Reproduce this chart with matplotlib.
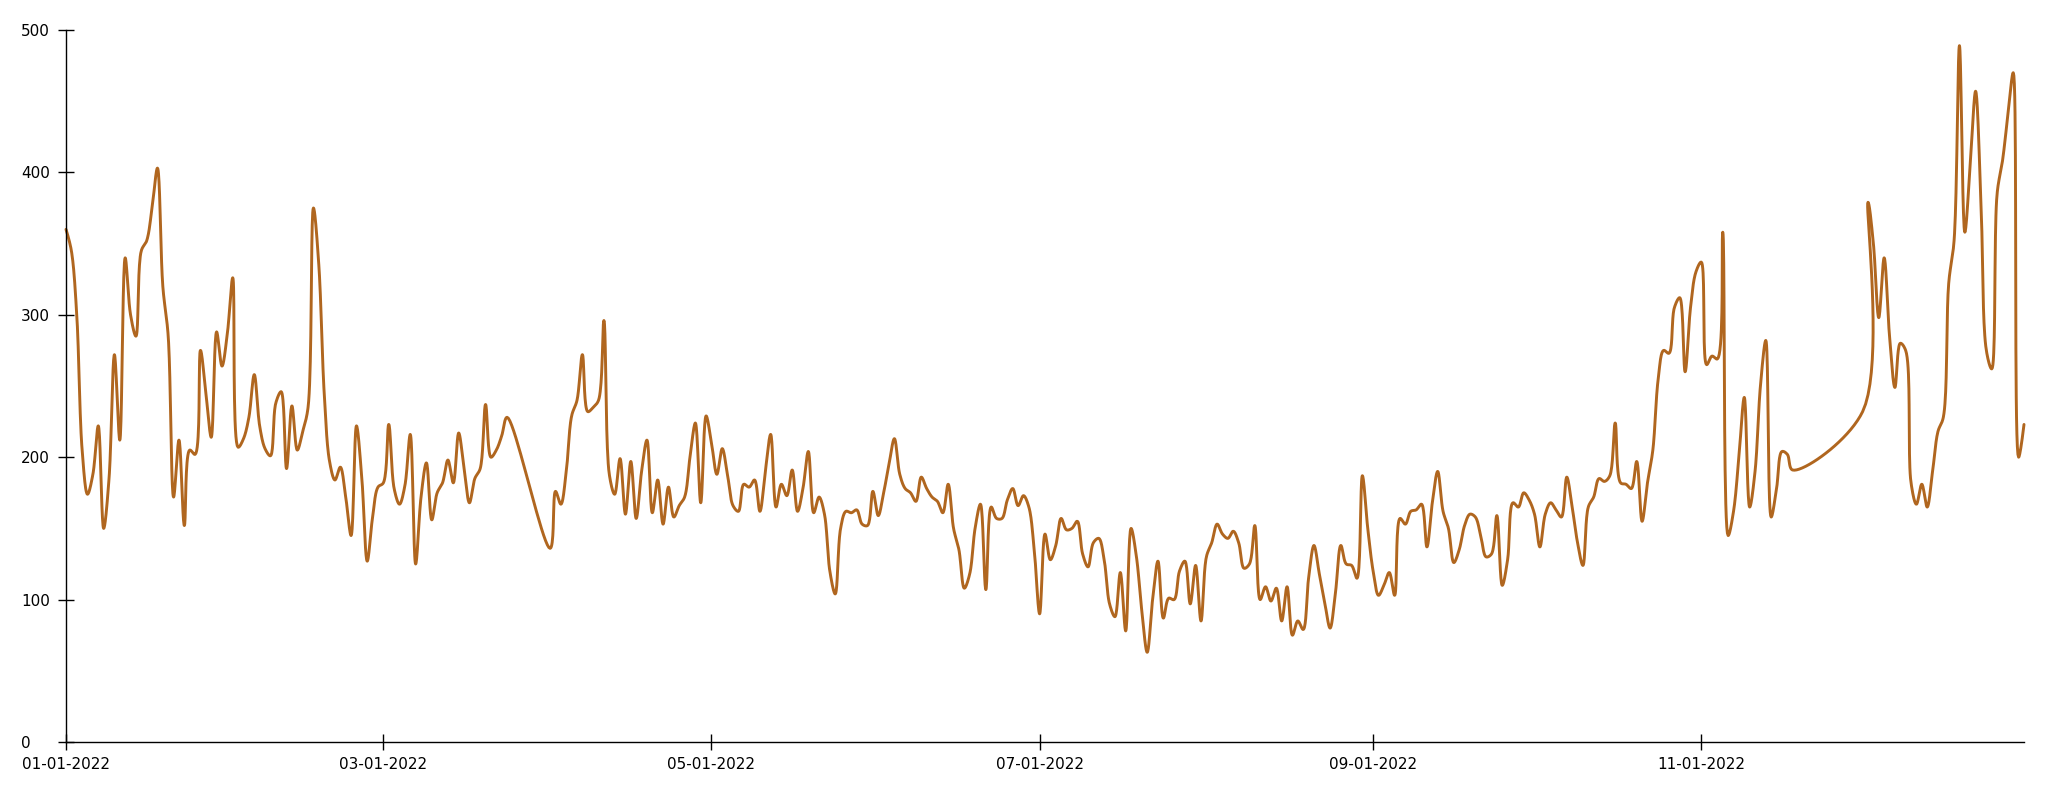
import numpy as np
import pandas as pd
import matplotlib
matplotlib.use("Agg")
import matplotlib.pyplot as plt
import matplotlib.dates as mdates

# ---- data (daily values, None = no observation) ----
start_date = "2022-01-01"
end_date = "2022-12-31"

jan = [360, 345, 300, 205, 174, 188, 222, 150, 185, 272, 212, 340, 300, 285, 345, 352,
       375, 403, 320, 285, 172, 212, 152, 205, 202, 275, 245, 214, 288, 264, 287]
feb = [326, 207, 213, 228, 258, 222, 206, 201, 238, 246, 192, 236, 205, 218, 235, 375,
       335, 245, 197, 184, 193, 172, 145, 222, 185, 127, 158, 179]
mar = [182, 223, 178, 167, 180, 216, 125, 172, 196, 156, 175, 182, 198, 182, 217, 192,
       168, 185, 192, 237, 200, 205, 215, 228, None, None, None, None, None, None, None]
apr = [136, 176, 167, 190, 229, 240, 272, 232, 235, 240, 296, 188, 174, 199, 160, 197,
       157, 190, 212, 161, 184, 153, 179, 158, 166, 172, 200, 224, 168, 229]
may = [210, 188, 206, 187, 166, 162, 181, 179, 184, 162, 190, 216, 165, 181, 173, 191,
       162, 178, 204, 161, 172, 160, 120, 104, 150, 162, 161, 163, 153, 152, 176]
jun = [159, 175, 195, 213, 188, 178, 175, 169, 186, 178, 172, 169, 161, 181, 150, 135,
       108, 118, 150, 167, 107, 165, 157, 157, 170, 178, 166, 173, 165, 135]
jul = [90, 146, 128, 138, 157, 149, 150, 155, 132, 123, 140, 143, 128, 97, 88, 119,
       78, 150, 130, 92, 63, 100, 127, 87, 101, 100, 120, 127, 97, 124, 85]
aug = [130, 140, 153, 146, 143, 148, 140, 122, 125, 152, 100, 109, 99, 108, 85, 109,
       75, 85, 79, 115, 138, 118, 98, 80, 105, 138, 125, 124, 115, 187, 150]
sep = [120, 103, 110, 119, 103, 157, 153, 162, 163, 167, 137, 168, 190, 162, 150, 126,
       135, 152, 160, 158, 145, 130, 132, 159, 110, 128, 168, 165, 175, 170]
oct_ = [160, 137, 160, 168, 163, 158, 186, 165, 140, 124, 165, 172, 185, 183, 187, 224,
        182, 181, 178, 197, 155, 182, 205, 255, 275, 273, 305, 312, 260, 305, 330]
nov = [337, 265, 271, 269, 358, 145, 162, 200, 242, 165, 190, 250, 282, 158, 178, 204,
       202, 191, None, None, None, None, None, None, None, None, None, None, None, None]
dec = [232, 379, 350, 298, 340, 285, 249, 280, 275, 182, 167, 181, 165, 190, 218, 228,
       322, 352, 489, 358, 405, 457, 380, 275, 262, 385, 408, 440, 470, 200, 223]

y_ticks = [0, 100, 200, 300, 400, 500]
x_tick_dates = ["2022-01-01", "2022-03-01", "2022-05-01", "2022-07-01", "2022-09-01", "2022-11-01"]
x_tick_labels = ["01-01-2022", "03-01-2022", "05-01-2022", "07-01-2022", "09-01-2022", "11-01-2022"]

dates = pd.date_range(start_date, end_date, freq="D")
values = jan + feb + mar + apr + may + jun + jul + aug + sep + oct_ + nov + dec
series = pd.Series(values, index=dates, dtype="float").dropna()

# ---- figure ----
W, H = 2048, 793
fig = plt.figure(figsize=(W / 100, H / 100), dpi=100)
ax = fig.add_axes([66 / W, 1 - 742 / H, (2024 - 66) / W, (742 - 30) / H])

x0 = mdates.date2num(pd.Timestamp(start_date))
x1 = mdates.date2num(pd.Timestamp(end_date))
ax.set_xlim(x0, x1)
ax.set_ylim(0, 500)


def catmull_rom(px, py, alpha=0.5, n=20):
    pts = np.column_stack([px, py]).astype(float)
    N = len(pts)
    out = [pts[0]]
    t = np.linspace(0, 1, n + 1)[1:][:, None]
    for i in range(N - 1):
        p1, p2 = pts[i], pts[i + 1]
        l12_2a = np.sum((p2 - p1) ** 2) ** alpha
        l12_a = np.sqrt(l12_2a)
        c1, c2 = p1.copy(), p2.copy()
        if i > 0:
            p0 = pts[i - 1]
            l01_2a = np.sum((p1 - p0) ** 2) ** alpha
            l01_a = np.sqrt(l01_2a)
            if l01_a > 1e-12:
                a = 2 * l01_2a + 3 * l01_a * l12_a + l12_2a
                nn = 3 * l01_a * (l01_a + l12_a)
                c1 = (p1 * a - p0 * l12_2a + p2 * l01_2a) / nn
        if i + 2 < N:
            p3 = pts[i + 2]
            l23_2a = np.sum((p3 - p2) ** 2) ** alpha
            l23_a = np.sqrt(l23_2a)
            if l23_a > 1e-12:
                b = 2 * l23_2a + 3 * l23_a * l12_a + l12_2a
                m = 3 * l23_a * (l23_a + l12_a)
                c2 = (p2 * b + p1 * l23_2a - p3 * l12_2a) / m
        seg = ((1 - t) ** 3) * p1 + 3 * ((1 - t) ** 2) * t * c1 + 3 * (1 - t) * t ** 2 * c2 + t ** 3 * p2
        out.extend(seg)
    return np.array(out)


xd = mdates.date2num(series.index.to_pydatetime())
disp = ax.transData.transform(np.column_stack([xd, series.values]))
curve_disp = catmull_rom(disp[:, 0], disp[:, 1])
curve = ax.transData.inverted().transform(curve_disp)
ax.plot(curve[:, 0], curve[:, 1], color="#b0661f", lw=2.1, solid_joinstyle="round",
        solid_capstyle="round", clip_on=False)

# ---- axes styling ----
for s in ["top", "right"]:
    ax.spines[s].set_visible(False)
for s in ["left", "bottom"]:
    ax.spines[s].set_linewidth(1.0)
    ax.spines[s].set_color("black")

ax.set_yticks(y_ticks)
ax.set_yticklabels([str(v) for v in y_ticks])
ax.set_xticks([mdates.date2num(pd.Timestamp(d)) for d in x_tick_dates])
ax.set_xticklabels(x_tick_labels)

ax.tick_params(axis="both", direction="inout", length=11.5, width=1.0, color="black",
               labelsize=11, labelcolor="black")
ax.tick_params(axis="y", pad=26.5)
ax.tick_params(axis="x", pad=5)
for lbl in ax.get_yticklabels():
    lbl.set_horizontalalignment("left")

fig.savefig("out.png", dpi=100)
